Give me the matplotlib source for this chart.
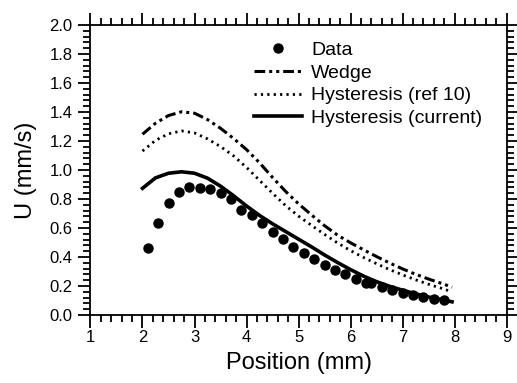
import matplotlib
matplotlib.use("Agg")
import matplotlib.pyplot as plt
from matplotlib.ticker import MultipleLocator

plt.rcParams['font.family'] = ['Liberation Sans', 'DejaVu Sans']

# Measured data points
data_x = [2.1, 2.3, 2.5, 2.7, 2.9, 3.1, 3.3, 3.5, 3.7, 3.9, 4.1, 4.3, 4.5, 4.7,
          4.9, 5.1, 5.3, 5.5, 5.7, 5.9, 6.1, 6.3, 6.4, 6.6, 6.8, 7.0, 7.2, 7.4,
          7.6, 7.8]
data_y = [0.46, 0.632, 0.77, 0.848, 0.881, 0.878, 0.871, 0.839, 0.80, 0.724,
          0.689, 0.636, 0.575, 0.524, 0.467, 0.425, 0.384, 0.346, 0.31, 0.28,
          0.25, 0.222, 0.218, 0.191, 0.173, 0.154, 0.135, 0.122, 0.11, 0.103]

# Model curves
curve_x = [2.0, 2.25, 2.5, 2.75, 3.0, 3.25, 3.5, 3.75, 4.0, 4.25, 4.5, 4.75,
           5.0, 5.25, 5.5, 5.75, 6.0, 6.25, 6.5, 6.75, 7.0, 7.25, 7.5, 7.75, 7.95]
wedge_y = [1.247, 1.323, 1.376, 1.402, 1.392, 1.348, 1.288, 1.218, 1.141, 1.05,
           0.949, 0.853, 0.767, 0.69, 0.616, 0.551, 0.498, 0.45, 0.403, 0.359,
           0.318, 0.281, 0.248, 0.218, 0.192]
hyst_ref10_y = [1.131, 1.205, 1.25, 1.27, 1.256, 1.215, 1.162, 1.098, 1.018,
                0.929, 0.84, 0.755, 0.682, 0.618, 0.556, 0.497, 0.444, 0.397,
                0.354, 0.313, 0.277, 0.243, 0.212, 0.184, 0.16]
hyst_current_y = [0.874, 0.946, 0.978, 0.988, 0.978, 0.944, 0.889, 0.823, 0.752,
                  0.687, 0.629, 0.576, 0.523, 0.47, 0.414, 0.362, 0.313, 0.268,
                  0.23, 0.198, 0.171, 0.146, 0.124, 0.106, 0.091]

labels = ["Data", "Wedge", "Hysteresis (ref 10)", "Hysteresis (current)"]
x_ticks = [1, 2, 3, 4, 5, 6, 7, 8, 9]
y_ticks = [0.0, 0.2, 0.4, 0.6, 0.8, 1.0, 1.2, 1.4, 1.6, 1.8, 2.0]

fig = plt.figure(figsize=(5.17, 3.83), dpi=100)
ax = fig.add_axes([0.175, 0.1775, 0.805, 0.757])

ax.plot(data_x, data_y, 'o', color='black', markersize=6.5, label=labels[0])
ax.plot(curve_x, wedge_y, color='black', lw=2.2,
        dashes=(3.5, 1.3, 1, 1.3, 1, 1.3), label=labels[1])
ax.plot(curve_x, hyst_ref10_y, color='black', lw=2.0,
        dashes=(0.8, 1.5), label=labels[2])
ax.plot(curve_x, hyst_current_y, color='black', lw=2.6, label=labels[3])

ax.set_xlim(1, 9)
ax.set_ylim(0, 2.0)
ax.set_xticks(x_ticks)
ax.set_yticks(y_ticks)
ax.set_yticklabels([f"{v:.1f}" for v in y_ticks])
ax.xaxis.set_minor_locator(MultipleLocator(0.2))
ax.yaxis.set_minor_locator(MultipleLocator(0.04))

ax.tick_params(which='both', direction='out', top=True, right=True,
               labeltop=False, labelright=False, width=1.3, colors='black')
ax.tick_params(which='major', length=9, labelsize=12, pad=2)
ax.tick_params(axis='y', which='major', pad=4)
ax.tick_params(which='minor', length=5)
for s in ax.spines.values():
    s.set_linewidth(1.3)

ax.set_xlabel("Position (mm)", fontsize=17, labelpad=5)
ax.set_ylabel("U (mm/s)", fontsize=17, labelpad=9)

ax.legend(loc='upper left', bbox_to_anchor=(0.393, 0.945), frameon=False,
          fontsize=14, borderpad=0, borderaxespad=0, handlelength=2.45,
          handletextpad=0.5, labelspacing=0.27, numpoints=1)

fig.savefig("out.png", dpi=100)
